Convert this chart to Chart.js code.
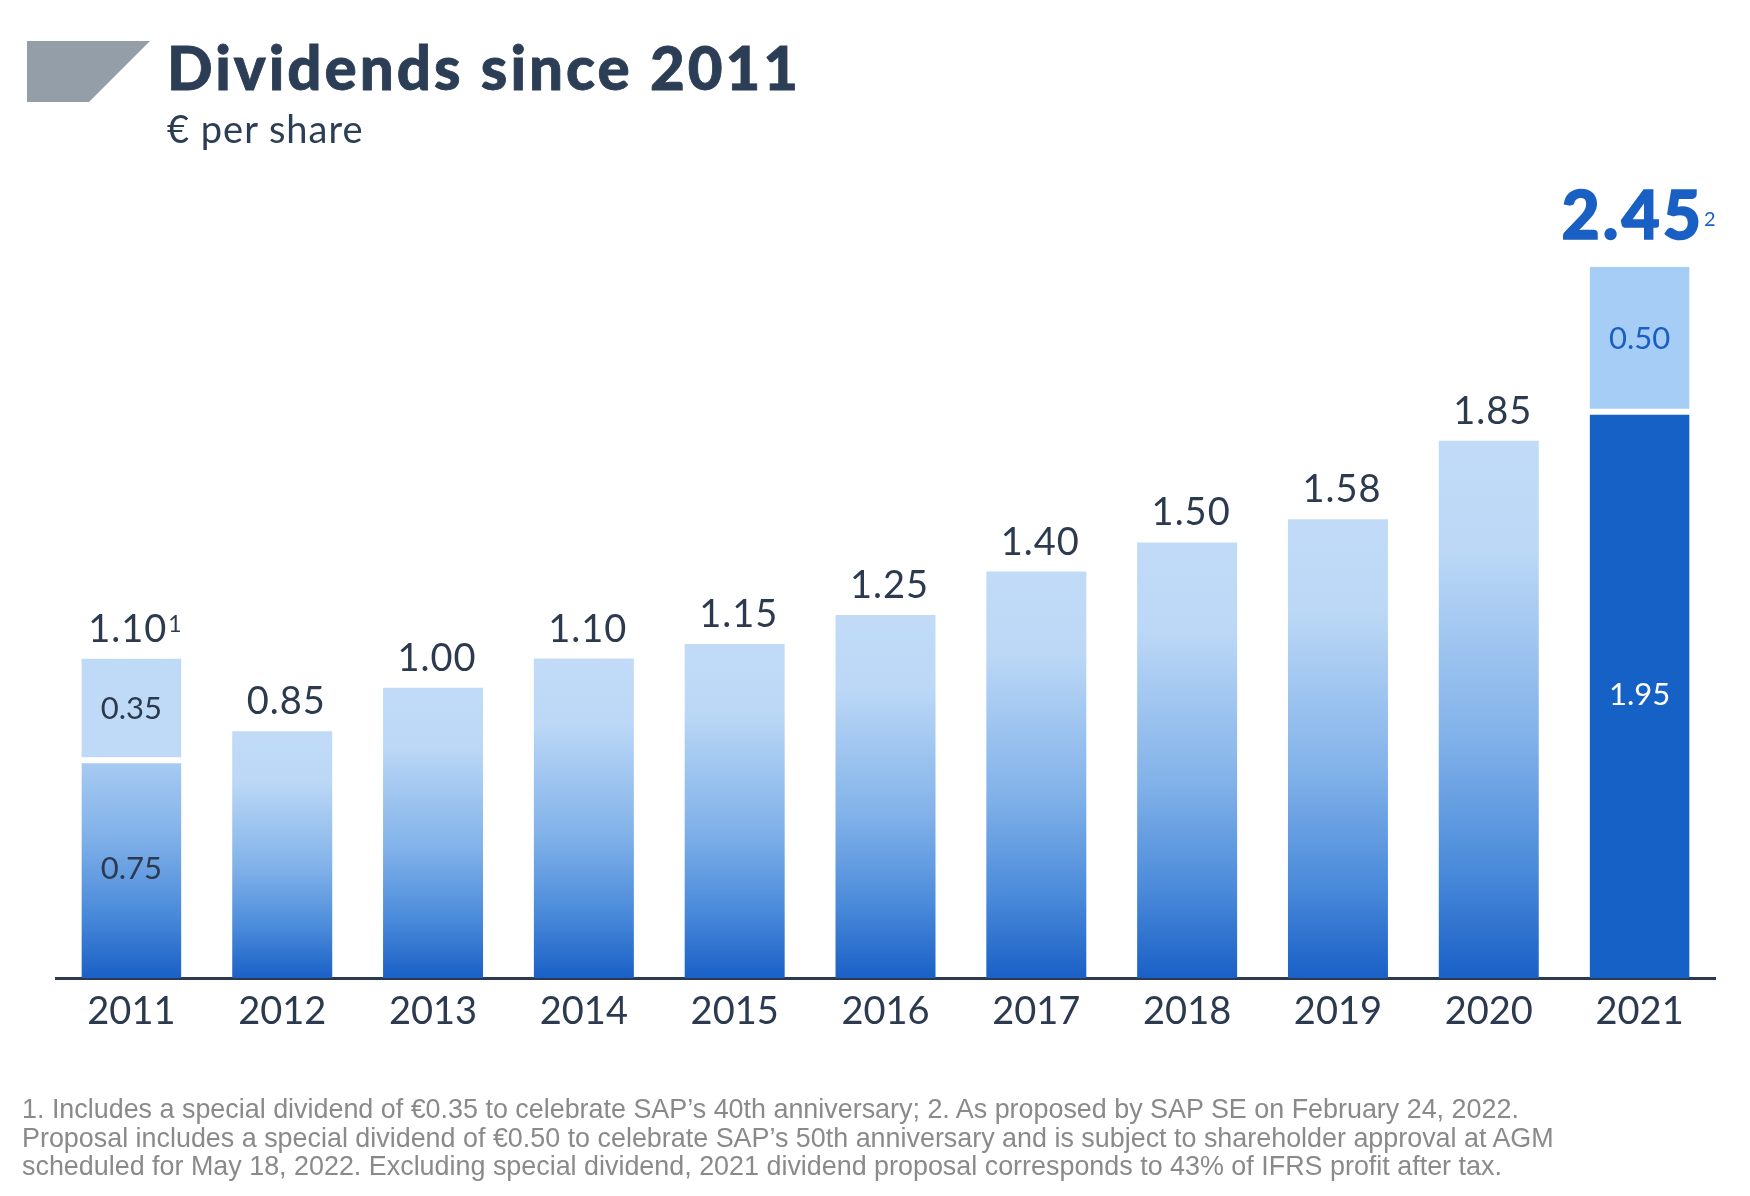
<!DOCTYPE html>
<html>
<head>
<meta charset="utf-8">
<script src="https://cdn.jsdelivr.net/npm/chart.js@4.4.1/dist/chart.umd.min.js"></script>
<style>
  html, body { margin: 0; padding: 0; background: #ffffff; }
  #wrap { position: relative; width: 1750px; height: 1196px; overflow: hidden; background: #fff; }
  #c { position: absolute; left: 0; top: 0; }
  .deco { position: absolute; left: 27px; top: 41px; width: 123px; height: 61px; background: #939ea8;
          clip-path: polygon(0 0, 100% 0, 50.4% 100%, 0 100%); }
  .title { position: absolute; left: 167px; top: 37px; font: 900 60px/1 Lato, sans-serif; letter-spacing: 3px; color: #2c3e55; white-space: nowrap; -webkit-text-stroke: 0.8px #2c3e55; }
  .subtitle { position: absolute; left: 167px; top: 109px; font: 400 38px/1 Lato, sans-serif; letter-spacing: 1px; color: #2c3e55; white-space: nowrap; }
  .foot { position: absolute; left: 22px; top: 1095px; font: 400 26.9px/28.5px "Liberation Sans", Arial, sans-serif; color: #8a8a8a; white-space: nowrap; }
</style>
</head>
<body>
<div id="wrap">
  <canvas id="c" width="1750" height="1196"></canvas>
  <div class="deco"></div>
  <div class="title">Dividends since 2011</div>
  <div class="subtitle">€ per share</div>
  <div class="foot">1. Includes a special dividend of €0.35 to celebrate SAP’s 40th anniversary; 2. As proposed by SAP SE on February 24, 2022.<br>Proposal includes a special dividend of €0.50 to celebrate SAP’s 50th anniversary and is subject to shareholder approval at AGM<br>scheduled for May 18, 2022. Excluding special dividend, 2021 dividend proposal corresponds to 43% of IFRS profit after tax.</div>
</div>
<script>
// ---- data ----
const years = ['2011', '2012', '2013', '2014', '2015', '2016', '2017', '2018', '2019', '2020', '2021'];
const regularDividend = [0.75, 0.85, 1.00, 1.10, 1.15, 1.25, 1.40, 1.50, 1.58, 1.85, 1.95];
const specialDividend = [0.35, null, null, null, null, null, null, null, null, null, 0.50];
const footnoteMarks = ['1', '', '', '', '', '', '', '', '', '', '2'];
const highlightYear = '2021';

// ---- styles ----
const NAVY = '#2b3a4f';
const BLUE = '#1a5fc4';
const LIGHT = '#bfdaf6';

function totalAt(i) { return (regularDividend[i] || 0) + (specialDividend[i] || 0); }

function gradientFor(context) {
  const chart = context.chart;
  const i = context.dataIndex;
  if (!chart.chartArea) return LIGHT;
  const y = chart.scales.y;
  const top = y.getPixelForValue(totalAt(i));
  const base = y.getPixelForValue(0);
  const g = chart.ctx.createLinearGradient(0, top, 0, base);
  g.addColorStop(0, '#c1dbf7');
  g.addColorStop(0.2, '#bcd8f6');
  g.addColorStop(0.55, '#82b2e9');
  g.addColorStop(0.8, '#4a8ada');
  g.addColorStop(1, '#1a60c6');
  return g;
}

const labelPlugin = {
  id: 'valueLabels',
  afterDatasetsDraw(chart) {
    const ctx = chart.ctx;
    const m0 = chart.getDatasetMeta(0);
    const m1 = chart.getDatasetMeta(1);
    years.forEach((yr, i) => {
      const hasSpecial = specialDividend[i] != null;
      const topEl = hasSpecial ? m1.data[i] : m0.data[i];
      const hi = yr === highlightYear;
      const txt = totalAt(i).toFixed(2);
      const sup = footnoteMarks[i];
      ctx.save();
      ctx.textBaseline = 'alphabetic';
      ctx.textAlign = 'left';
      const mainFont = hi ? '900 66px Lato' : '400 38px Lato';
      const supFont = hi ? '400 20px Lato' : '400 23px Lato';
      const mainSpacing = hi ? '3px' : '1px';
      ctx.font = mainFont;
      ctx.letterSpacing = mainSpacing;
      const w1 = ctx.measureText(txt).width;
      ctx.letterSpacing = '0px';
      ctx.font = supFont;
      const w2 = sup ? ctx.measureText(sup).width + 2 : 0;
      const startX = topEl.x - (w1 + w2) / 2 + (hi ? 0 : 4);
      const baseY = topEl.y - (hi ? 28 : 17);
      ctx.fillStyle = hi ? BLUE : NAVY;
      ctx.font = mainFont;
      ctx.letterSpacing = mainSpacing;
      if (hi) { ctx.strokeStyle = BLUE; ctx.lineWidth = 1.5; ctx.strokeText(txt, startX, baseY); }
      ctx.fillText(txt, startX, baseY);
      ctx.letterSpacing = '0px';
      if (sup) {
        ctx.font = supFont;
        ctx.fillText(sup, startX + w1 + (hi ? 0 : 1), baseY - (hi ? 13 : 10));
      }
      // inner labels for stacked bars
      if (hasSpecial) {
        ctx.font = '400 31px Lato';
        ctx.textAlign = 'center';
        ctx.textBaseline = 'middle';
        const lo = m0.data[i], up = m1.data[i];
        ctx.fillStyle = hi ? '#ffffff' : NAVY;
        ctx.fillText(regularDividend[i].toFixed(2), lo.x, (lo.y + lo.base) / 2);
        ctx.fillStyle = hi ? BLUE : NAVY;
        ctx.fillText(specialDividend[i].toFixed(2), up.x, (up.y + up.base) / 2);
      }
      ctx.restore();
    });
  }
};

new Chart(document.getElementById('c'), {
  type: 'bar',
  data: {
    labels: years,
    datasets: [
      {
        label: 'Dividend',
        data: regularDividend,
        backgroundColor: (c) => years[c.dataIndex] === highlightYear ? '#1661c6' : gradientFor(c),
        borderColor: '#ffffff',
        borderWidth: (c) => specialDividend[c.dataIndex] != null ? { top: 3, left: 0, right: 0, bottom: 0 } : 0,
        borderSkipped: 'start',
        categoryPercentage: 1,
        barPercentage: 0.663
      },
      {
        label: 'Special dividend',
        data: specialDividend,
        backgroundColor: (c) => years[c.dataIndex] === highlightYear ? '#a6cdf5' : LIGHT,
        borderColor: '#ffffff',
        borderWidth: { top: 0, left: 0, right: 0, bottom: 3 },
        borderSkipped: false,
        categoryPercentage: 1,
        barPercentage: 0.663
      }
    ]
  },
  options: {
    responsive: false,
    devicePixelRatio: 1,
    animation: false,
    layout: { padding: { left: 56, right: 35, top: 165, bottom: 138 } },
    plugins: { legend: { display: false }, tooltip: { enabled: false }, title: { display: false } },
    scales: {
      x: {
        stacked: true,
        grid: { display: false, drawTicks: false },
        border: { display: true, color: NAVY, width: 3 },
        ticks: { color: NAVY, font: { family: 'Lato', size: 38, weight: '400' }, padding: 11 },
        afterFit: (s) => { s.height = 80; }
      },
      y: {
        stacked: true,
        display: false,
        min: 0,
        max: 2.8
      }
    }
  },
  plugins: [labelPlugin]
});
</script>
</body>
</html>
